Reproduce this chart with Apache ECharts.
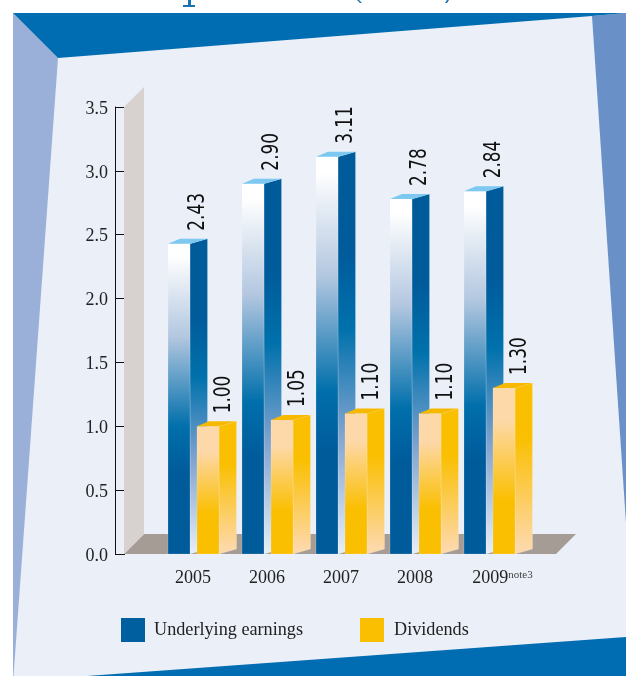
<!DOCTYPE html>
<html>
<head>
<meta charset="utf-8">
<style>
  html, body { margin: 0; padding: 0; background: #fff; }
  #chart { width: 626px; height: 676px; }
</style>
<script src="https://cdn.jsdelivr.net/npm/echarts@6/dist/echarts.min.js"></script>
</head>
<body>
<div id="chart"></div>
<script>
const years = ["2005", "2006", "2007", "2008", "2009"];
const earnings = [2.43, 2.90, 3.11, 2.78, 2.84];
const dividends = [1.00, 1.05, 1.10, 1.10, 1.30];
const valueTicks = { min: 0, max: 3.5, interval: 0.5 };

const SERIF = '"Liberation Serif", serif';
const grad = (stops) => new echarts.graphic.LinearGradient(0, 0, 0, 1,
  stops.map(([offset, color]) => ({ offset, color })));

/* 3D bar: front face + side face + top cap, offsets from the category centre */
const bar3d = (look) => (params, api) => {
  const [cx, top] = api.coord([api.value(0), api.value(1)]);
  const [, base] = api.coord([api.value(0), 0]);
  const l = cx + look.left, r = l + 22, b = r + 17.5;
  const dy = 5;
  return {
    type: "group",
    children: [
      {
        type: "polygon",
        shape: { points: [[r, top], [b, top - dy], [b, base - dy], [r, base]] },
        style: { fill: grad(look.side), stroke: "rgba(255,255,255,0.3)", lineWidth: 0.6 },
      },
      {
        type: "polygon",
        shape: { points: [[l, top], [r, top], [r, base], [l, base]] },
        style: { fill: grad(look.front), stroke: "rgba(255,255,255,0.3)", lineWidth: 0.6 },
      },
      {
        type: "polygon",
        shape: { points: [[l, top], [l + 12, top - dy], [b, top - dy], [r, top]] },
        style: { fill: look.cap },
      },
      {
        type: "text",
        x: cx + look.labelX,
        y: top - 13,
        rotation: Math.PI / 2,
        scaleX: 0.72,
        style: {
          text: api.value(1).toFixed(2),
          fill: "#111",
          font: '23.5px "DejaVu Sans", sans-serif',
          align: "left",
          verticalAlign: "middle",
        },
      },
    ],
  };
};

const blueLook = {
  left: -25,
  labelX: 5,
  cap: "#7cc8f0",
  front: [[0, "#ffffff"], [0.04, "#ffffff"], [0.3, "#b3c7e0"], [0.59, "#006fab"], [0.74, "#005b9b"], [1, "#005b9b"]],
  side: [[0, "#005b9b"], [0.25, "#005b9b"], [0.44, "#0071ac"], [0.7, "#7fa3cf"], [1, "#e8eff8"]],
};
const yellowLook = {
  left: 4,
  labelX: 30.5,
  cap: "#f7b900",
  front: [[0, "#fdd8a8"], [0.2, "#fdd8a8"], [0.68, "#fabf00"], [1, "#fabf00"]],
  side: [[0, "#fabf00"], [0.32, "#fabf00"], [0.95, "#fdd8a8"], [1, "#fdd8a8"]],
};

const panelShapes = [
  { points: [[13, 13], [626, 13], [626, 676], [13, 676]], fill: "#eaeff8" },
  { points: [[13, 13], [58, 58], [13.5, 676], [13, 676]], fill: "#9ab0d9" },
  { points: [[592, 16], [626, 13], [626, 523]], fill: "#6a90c8" },
  { points: [[13, 13], [626, 13], [592, 16], [58, 58]], fill: "#006cb2" },
  { points: [[87, 676], [626, 637], [626, 676]], fill: "#006cb2" },
  // what shows of the cropped title above the panel
  { points: [[188, 0], [191, 0], [191, 5], [195, 5], [195, 7], [183, 7], [183, 5], [188, 5]], fill: "#1a72b0" },
  { points: [[357, 0], [359, 0], [362, 3], [360, 3]], fill: "#1a72b0" },
  { points: [[447, 0], [449, 0], [447, 3], [445, 3]], fill: "#1a72b0" },
];

const chart = echarts.init(document.getElementById("chart"), null, { renderer: "canvas" });
chart.setOption({
  animation: false,
  backgroundColor: "#ffffff",
  graphic: panelShapes.map((p) => ({
    type: "polygon",
    z: -10,
    silent: true,
    shape: { points: p.points },
    style: { fill: p.fill },
  })),
  grid: { left: 156, right: 100, top: 107, bottom: 122 },
  legend: [
    {
      data: ["Underlying earnings"],
      left: 121, top: 618, padding: 0,
      itemWidth: 24, itemHeight: 24, icon: "rect",
      textStyle: { fontFamily: SERIF, fontSize: 18.2, color: "#222", padding: [2, 0, 0, 4] },
    },
    {
      data: ["Dividends"],
      left: 360, top: 618, padding: 0,
      itemWidth: 24, itemHeight: 24, icon: "rect",
      textStyle: { fontFamily: SERIF, fontSize: 18.2, color: "#222", padding: [2, 0, 0, 5] },
    },
  ],
  xAxis: {
    type: "category",
    data: years,
    axisLine: { show: false },
    axisTick: { show: false },
    axisLabel: {
      interval: 0,
      hideOverlap: false,
      margin: 15.5,
      color: "#222",
      fontFamily: SERIF,
      fontSize: 18,
      formatter: (v) => (v === "2009" ? `{y|${v}}{n|note3}` : v),
      rich: {
        y: { fontFamily: SERIF, fontSize: 18, color: "#222", padding: [0, 0, 0, 27] },
        n: { fontFamily: SERIF, fontSize: 11, color: "#444", padding: [0, 0, 7, 0] },
      },
    },
  },
  yAxis: {
    type: "value",
    ...valueTicks,
    offset: 41,
    axisLine: { show: true, lineStyle: { color: "#111", width: 1 } },
    axisTick: { show: true, inside: true, length: 10, lineStyle: { color: "#111", width: 1 } },
    axisLabel: {
      margin: 7,
      color: "#222",
      fontFamily: SERIF,
      fontSize: 18,
      formatter: (v) => `{t|${v.toFixed(1)}}`,
      rich: {
        t: { fontFamily: SERIF, fontSize: 18, color: "#222", padding: [4, 0, 0, 0] },
      },
    },
    splitLine: { show: false },
  },
  series: [
    {
      // back wall and floor, hung off the plot rect
      name: "backdrop",
      type: "custom",
      silent: true,
      z: 1,
      data: [[0, 0]],
      renderItem: (params) => {
        const c = params.coordSys;
        const left = c.x - 32, base = c.y + c.height, depth = 20;
        return {
          type: "group",
          children: [
            {
              type: "polygon",
              shape: { points: [[left, base], [left + depth, base - depth], [c.x + c.width + 50, base - depth], [c.x + c.width + 30, base]] },
              style: { fill: "#a59c96" },
            },
            {
              type: "polygon",
              shape: { points: [[left, base], [left, c.y], [left + depth, c.y - depth], [left + depth, base - depth]] },
              style: { fill: "#d7d2cf" },
            },
          ],
        };
      },
    },
    {
      name: "Underlying earnings",
      type: "custom",
      z: 3,
      itemStyle: { color: "#005f9f" },
      encode: { x: 0, y: 1 },
      data: earnings.map((v, i) => [i, v]),
      renderItem: bar3d(blueLook),
    },
    {
      name: "Dividends",
      type: "custom",
      z: 4,
      itemStyle: { color: "#fabf00" },
      encode: { x: 0, y: 1 },
      data: dividends.map((v, i) => [i, v]),
      renderItem: bar3d(yellowLook),
    },
  ],
});
</script>
</body>
</html>
